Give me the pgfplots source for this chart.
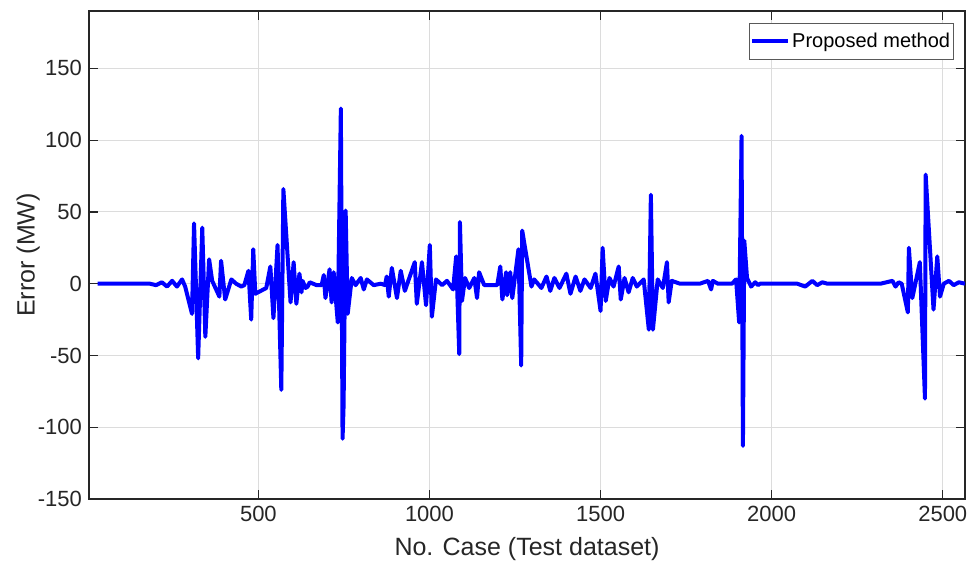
\documentclass[border=0pt]{standalone}
\usepackage{fontspec}
\setmainfont{Liberation Sans}
\usepackage{pgfplots}
\pgfplotsset{compat=1.18}
\definecolor{axisgray}{HTML}{262626}
\definecolor{gridgray}{HTML}{DCDCDC}

\begin{document}
\begin{tikzpicture}
\useasboundingbox (-44.5pt,-37.5pt) rectangle (440.5pt,249.5pt);
\begin{axis}[
  scale only axis,
  width=438pt, height=244pt,
  xmin=5, xmax=2565,
  ymin=-150, ymax=190,
  xtick={500,1000,1500,2000,2500},
  ytick={-150,-100,-50,0,50,100,150},
  /pgf/number format/assume math mode=true,
  /pgf/number format/1000 sep={},
  tick label style={font=\fontsize{11}{13}\selectfont, text=axisgray},
  grid=major,
  grid style={gridgray, line width=0.5pt},
  tick align=inside,
  major tick length=4.5pt,
  tick style={axisgray, line width=0.6pt},
  axis line style={axisgray, line width=0.6pt},
  xlabel={No. Case (Test dataset)},
  ylabel={Error (MW)},
  label style={font=\fontsize{12.5}{14}\selectfont, text=axisgray},
  xlabel style={at={(axis description cs:0.5,-0.1025)}, anchor=center},
  ylabel style={at={(axis description cs:-0.0696,0.5)}, anchor=center, rotate=0},
  legend style={at={(0.987,0.975)}, anchor=north east,
    draw=gray!70!black, line width=0.5pt, fill=white,
    font=\fontsize{10}{12}\selectfont, inner xsep=0.5pt, inner ysep=2.5pt,
    row sep=0pt, nodes={inner xsep=1pt}},
  legend cell align=left,
  legend image code/.code={\draw[#1] (-2pt,0pt) -- (16pt,0pt);},
]
\addplot[color={rgb,255:red,0;green,0;blue,255}, line width=2pt, line join=round] coordinates {
(30,0) (183,0) (201,-1) (218,1) (233,-2) (248,2) (262,-2) (277,3) (286,-2)
(306,-21) (312,42) (324,-52) (336,39) (345,-37) (356,17) (365,2) (386,-9)
(391,16) (403,-11) (421,3) (435,0) (450,-2) (459,-1) (471,9) (479,-25)
(485,24) (491,-7) (523,-3) (535,12) (544,-24) (556,27) (567,-74) (573,66)
(594,-13) (603,15) (611,-14) (620,7) (626,-6)
(629,2) (638,-3) (644,-2) (650,1) (670,-1) (685,-1) (691,6) (696,-10)
(708,10) (714,-13) (720,8) (732,-27) (741,122) (746,-108) (749,-85)
(755,51) (761,-21) (773,4) (784,-1) (799,4) (808,-4) (817,3) (837,-1)
(858,0) (870,-1) (875,5) (881,-9) (890,11) (905,-10) (916,9) (928,-5)
(957,15) (963,-14) (978,15) (990,-15) (1001,27) (1007,-23) (1019,3)
(1037,-1) (1051,2) (1069,-4) (1078,19) (1087,-49) (1089,43) (1095,-12)
(1104,4) (1116,-3) (1131,4) (1139,-10) (1145,8) (1160,-1) (1198,-1)
(1207,12) (1213,-11) (1224,8) (1227,-8) (1236,8) (1242,-10) (1260,24)
(1268,-57) (1271,37)
(1298,-2) (1306,3) (1327,-3) (1342,5) (1353,-5) (1365,4) (1380,-3)
(1400,7) (1412,-7) (1427,5) (1441,-5) (1453,3) (1471,-3) (1485,7)
(1500,-19) (1506,25) (1515,-12) (1526,4) (1538,-2) (1553,12) (1559,-11)
(1570,4) (1582,-6) (1594,4) (1606,-2) (1626,3) (1641,-32) (1647,62)
(1653,-32) (1667,3) (1682,-3) (1694,15) (1699,-13) (1708,2) (1732,0)
(1790,0) (1814,2) (1823,-4) (1828,2) (1843,0) (1884,0) (1896,3)
(1905,-27) (1912,103) (1916,-113) (1920,30) (1928,4) (1940,-2) (1952,1)
(1960,-1) (1966,0) (2075,0) (2098,-2) (2119,2) (2133,-1) (2148,1)
(2163,0) (2318,0) (2353,2) (2362,-2) (2371,1) (2380,0) (2398,-20)
(2401,25) (2411,-10) (2433,15) (2448,-80) (2450,76) (2473,-18)
(2484,19) (2492,-9) (2503,0) (2518,2) (2532,-1) (2547,1) (2565,0)
};
\addlegendentry{Proposed method}
\end{axis}
\end{tikzpicture}
\end{document}
